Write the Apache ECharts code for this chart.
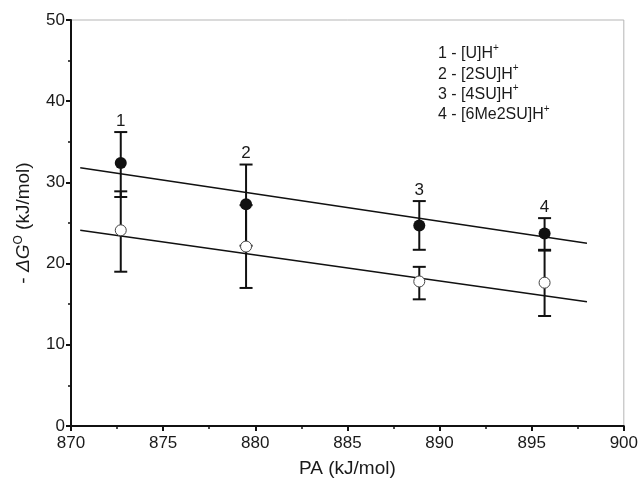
<!DOCTYPE html>
<html>
<head>
<meta charset="utf-8">
<script src="https://cdn.jsdelivr.net/npm/echarts@6/dist/echarts.min.js"></script>
<style>
html,body{margin:0;padding:0;background:#fff;}
#c{width:641px;height:483px;}
</style>
</head>
<body>
<div id="c"></div>
<script>
// ---- data ----
const groupLabels = ['1', '2', '3', '4'];
const pa = [872.7, 879.5, 888.9, 895.7];
const filledY = [32.4, 27.3, 24.7, 23.7];
const filledLow = [28.2, 22.2, 21.7, 21.6];
const filledHigh = [36.2, 32.2, 27.7, 25.6];
const openY = [24.1, 22.1, 17.8, 17.65];
const openLow = [19.0, 17.0, 15.6, 13.55];
const openHigh = [28.9, 27.2, 19.6, 21.7];
const fitUpperX = [870.5, 898.0];
const fitUpperY = [31.8, 22.5];
const fitLowerX = [870.5, 898.0];
const fitLowerY = [24.1, 15.3];
const legendNames = ['1 - [U]H', '2 - [2SU]H', '3 - [4SU]H', '4 - [6Me2SU]H'];
const xTicks = {min: 870, max: 900, interval: 5};
const yTicks = {min: 0, max: 50, interval: 10};

const FONT = '"Liberation Sans", Arial, Helvetica, sans-serif';
const TXT = '#1a1a1a';

const chart = echarts.init(document.getElementById('c'), null, {renderer: 'canvas'});

const errData = [];
pa.forEach((x, i) => {
  errData.push([x, filledLow[i], filledHigh[i]]);
  errData.push([x, openLow[i], openHigh[i]]);
});

function errRender(params, api) {
  const x = api.value(0);
  const p1 = api.coord([x, api.value(1)]);
  const p2 = api.coord([x, api.value(2)]);
  const hw = 6.5;
  const st = {stroke: '#111', lineWidth: 2};
  return {
    type: 'group',
    children: [
      {type: 'line', shape: {x1: p1[0], y1: p1[1], x2: p2[0], y2: p2[1]}, style: st},
      {type: 'line', shape: {x1: p1[0] - hw, y1: p1[1], x2: p1[0] + hw, y2: p1[1]}, style: st},
      {type: 'line', shape: {x1: p2[0] - hw, y1: p2[1], x2: p2[0] + hw, y2: p2[1]}, style: st}
    ]
  };
}

const labelData = pa.map((x, i) => [x, Math.max(filledHigh[i], openHigh[i]), groupLabels[i]]);
function labelRender(params, api) {
  const p = api.coord([api.value(0), api.value(1)]);
  return {
    type: 'text',
    x: p[0], y: p[1] - 11,
    style: {text: labelData[params.dataIndex][2], fill: TXT, font: '17px ' + FONT, align: 'center', verticalAlign: 'middle'}
  };
}

const option = {
  animation: false,
  backgroundColor: '#fff',
  grid: {left: 71, right: 16, top: 20, bottom: 56, show: true, borderColor: '#b5b5b5', borderWidth: 1},
  xAxis: {
    type: 'value', min: xTicks.min, max: xTicks.max, interval: xTicks.interval,
    name: 'PA (kJ/mol)', nameLocation: 'middle', nameGap: 33,
    nameTextStyle: {fontFamily: FONT, fontSize: 19, color: TXT},
    axisLine: {show: true, lineStyle: {color: '#111', width: 2}},
    axisTick: {show: true, inside: false, length: 5, lineStyle: {color: '#111', width: 2}},
    minorTick: {show: true, splitNumber: 2, length: 3, lineStyle: {color: '#111', width: 1.5}},
    axisLabel: {fontFamily: FONT, fontSize: 17, color: TXT, margin: 9},
    splitLine: {show: false}
  },
  yAxis: {
    type: 'value', min: yTicks.min, max: yTicks.max, interval: yTicks.interval,
    name: '- {i|ΔG}{s|O} (kJ/mol)', nameLocation: 'middle', nameGap: 36, nameRotate: 90,
    nameTextStyle: {
      fontFamily: FONT, fontSize: 19, color: TXT,
      rich: {
        i: {fontFamily: FONT, fontSize: 19, fontStyle: 'italic', color: TXT},
        s: {fontFamily: FONT, fontSize: 12, color: TXT, verticalAlign: 'top', lineHeight: 22}
      }
    },
    axisLine: {show: true, lineStyle: {color: '#111', width: 2}},
    axisTick: {show: true, inside: false, length: 5, lineStyle: {color: '#111', width: 2}},
    minorTick: {show: true, splitNumber: 2, length: 3, lineStyle: {color: '#111', width: 1.5}},
    axisLabel: {fontFamily: FONT, fontSize: 17, color: TXT, margin: 6},
    splitLine: {show: false}
  },
  graphic: legendNames.map((t, i) => ({
    type: 'text', left: 438, top: 43 + i * 20.3,
    style: {
      text: '{b|' + t + '}{s|+}',
      rich: {
        b: {fontFamily: FONT, fontSize: 16, fill: TXT, color: TXT, verticalAlign: 'bottom', lineHeight: 19},
        s: {fontFamily: FONT, fontSize: 10, fill: TXT, color: TXT, verticalAlign: 'top', lineHeight: 19}
      }
    }
  })),
  series: [
    {type: 'line', data: fitUpperX.map((x, i) => [x, fitUpperY[i]]), symbol: 'none', lineStyle: {color: '#111', width: 1.4}, z: 2},
    {type: 'line', data: fitLowerX.map((x, i) => [x, fitLowerY[i]]), symbol: 'none', lineStyle: {color: '#111', width: 1.4}, z: 2},
    {type: 'custom', data: errData, renderItem: errRender, z: 3},
    {type: 'scatter', data: pa.map((x, i) => [x, filledY[i]]), symbol: 'circle', symbolSize: 12,
      itemStyle: {color: '#111', borderColor: '#111', borderWidth: 0, opacity: 1}, z: 5},
    {type: 'scatter', data: pa.map((x, i) => [x, openY[i]]), symbol: 'circle', symbolSize: 11,
      itemStyle: {color: '#fff', borderColor: '#444', borderWidth: 1, opacity: 1}, z: 5},
    {type: 'custom', data: labelData.map(d => [d[0], d[1]]), renderItem: labelRender, z: 6}
  ]
};
chart.setOption(option);
</script>
</body>
</html>
